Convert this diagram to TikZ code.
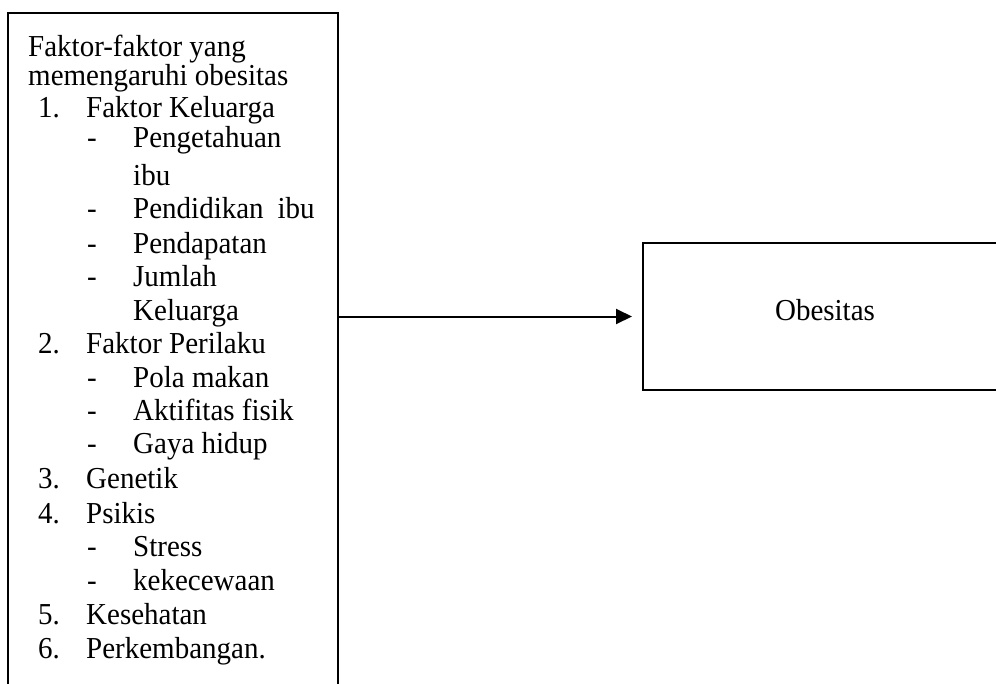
\documentclass[tikz,border=0pt]{standalone}
\usepackage{fontspec}
\setmainfont{Liberation Serif}
\usetikzlibrary{arrows.meta}
\newcommand{\tallt}[1]{\scalebox{1}[1.05]{#1}}
\tikzset{
  boxframe/.style={draw, line width=1.6pt, rectangle, inner sep=0pt, outer sep=0pt},
  txt/.style={anchor=base west, inner sep=0pt, font=\fontsize{29}{34}\selectfont},
  ctxt/.style={anchor=base, inner sep=0pt, font=\fontsize{29}{34}\selectfont},
  conn/.style={line width=2pt, -{Triangle[length=16pt, width=15pt]}}
}
\begin{document}
\begin{tikzpicture}[x=1pt, y=-1pt]
\useasboundingbox (0,0) rectangle (996,683);
\clip (0,0) rectangle (996,683);
% boxes
\node[boxframe, minimum width=330pt, minimum height=687pt] (L) at (173,356.5) {};
\node[boxframe, minimum width=367pt, minimum height=147pt] (O) at (826.5,316.5) {};
\node[ctxt] (otext) at (825,320) {\tallt{Obesitas}};
% text of left box
\node[txt] (t1) at (28,56) {\tallt{Faktor-faktor yang}};
\node[txt] (t2) at (28,85) {\tallt{memengaruhi obesitas}};
\node[txt] (n1) at (38,117) {\tallt{1.}};
\node[txt] (h1) at (86,117) {\tallt{Faktor Keluarga}};
\node[txt] (d1) at (87,147) {\tallt{-}};
\node[txt] (s1) at (133,147) {\tallt{Pengetahuan}};
\node[txt] (s1b) at (133,185) {\tallt{ibu}};
\node[txt] (d2) at (87,218) {\tallt{-}};
\node[txt] (s2) at (133,218) {\tallt{Pendidikan\hspace{14pt}ibu}};
\node[txt] (d3) at (87,253) {\tallt{-}};
\node[txt] (s3) at (133,253) {\tallt{Pendapatan}};
\node[txt] (d4) at (87,286) {\tallt{-}};
\node[txt] (s4) at (133,286) {\tallt{Jumlah}};
\node[txt] (s4b) at (133,320) {\tallt{Keluarga}};
\node[txt] (n2) at (38,353) {\tallt{2.}};
\node[txt] (h2) at (86,353) {\tallt{Faktor Perilaku}};
\node[txt] (d5) at (87,387) {\tallt{-}};
\node[txt] (s5) at (133,387) {\tallt{Pola makan}};
\node[txt] (d6) at (87,420) {\tallt{-}};
\node[txt] (s6) at (133,420) {\tallt{Aktifitas fisik}};
\node[txt] (d7) at (87,453) {\tallt{-}};
\node[txt] (s7) at (133,453) {\tallt{Gaya hidup}};
\node[txt] (n3) at (38,488) {\tallt{3.}};
\node[txt] (h3) at (86,488) {\tallt{Genetik}};
\node[txt] (n4) at (38,523) {\tallt{4.}};
\node[txt] (h4) at (86,523) {\tallt{Psikis}};
\node[txt] (d8) at (87,556) {\tallt{-}};
\node[txt] (s8) at (133,556) {\tallt{Stress}};
\node[txt] (d9) at (87,590) {\tallt{-}};
\node[txt] (s9) at (133,590) {\tallt{kekecewaan}};
\node[txt] (n5) at (38,624) {\tallt{5.}};
\node[txt] (h5) at (86,624) {\tallt{Kesehatan}};
\node[txt] (n6) at (38,658) {\tallt{6.}};
\node[txt] (h6) at (86,658) {\tallt{Perkembangan.}};
% connector
\draw[conn, shorten >=11pt] (L.east |- O.west) -- (O.west);
\end{tikzpicture}
\end{document}
